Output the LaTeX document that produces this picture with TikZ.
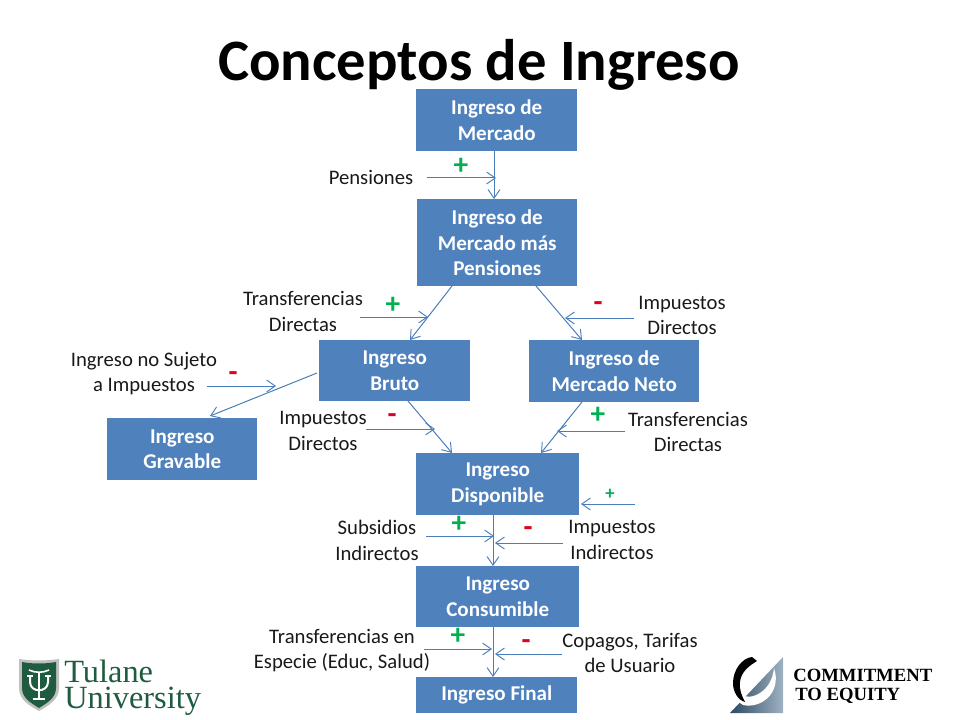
\documentclass[tikz,border=0pt]{standalone}
\usepackage{fontspec}
\setmainfont{Carlito}
\newfontfamily\logofont{Liberation Serif}
\usetikzlibrary{arrows.meta}
\definecolor{boxblue}{HTML}{4F81BD}
\definecolor{linkblue}{HTML}{4A7EBB}
\definecolor{plusgreen}{HTML}{00B050}
\definecolor{minusred}{HTML}{E00020}
\definecolor{tulane}{HTML}{1F5C3F}
\definecolor{coedark}{HTML}{2C4A63}
\definecolor{coelight}{HTML}{9FB2C2}
\tikzset{
  x=0.75pt,y=-0.75pt,
  box/.style={fill=boxblue,text=white,font=\fontsize{15.8}{19}\selectfont\bfseries,align=center,inner sep=0pt,anchor=north west},
  lab/.style={font=\fontsize{15.5}{19}\selectfont,align=center,inner sep=0pt,text=black!90,yshift=-0.6pt},
  link/.style={draw=linkblue,line width=0.75pt,-{Straight Barb[length=6.5pt,width=9pt,line width=0.7pt]}},
  plus/.style={text=plusgreen,font=\fontsize{22}{22}\selectfont\bfseries,inner sep=0pt},
  smallplus/.style={text=plusgreen,font=\fontsize{14}{14}\selectfont\bfseries,inner sep=0pt},
  minus/.style={text=minusred,font=\fontsize{22}{22}\selectfont\bfseries,inner sep=0pt},
}
\newcommand{\pbox}[6]{\node[box,minimum width=#4*0.75pt,minimum height=#5*0.75pt] (#1) at (#2,#3) {#6};}
\begin{document}
\begin{tikzpicture}
\useasboundingbox (0,0) rectangle (960,720);
\node[inner sep=0pt,font=\fontsize{44}{44}\selectfont\bfseries] (title) at (479,65) {Conceptos de Ingreso};

\pbox{mercado}{416}{89}{161}{62}{Ingreso de\\Mercado}
\pbox{maspen}{417}{199}{160}{87}{Ingreso de\\Mercado más\\Pensiones}
\pbox{bruto}{319}{340}{151}{61}{Ingreso\\Bruto}
\pbox{neto}{529}{340}{170}{62}{Ingreso de\\Mercado Neto}
\pbox{gravable}{107}{418}{150}{62}{Ingreso\\Gravable}
\pbox{dispo}{416}{453}{163}{62}{Ingreso\\Disponible}
\pbox{consu}{416}{566}{163}{61}{Ingreso\\Consumible}
\pbox{final}{416}{677}{161}{36}{Ingreso Final}

\node[lab] (lpen) at (371,177) {Pensiones};
\node[lab] (ltd1) at (303,310.5) {Transferencias\\Directas};
\node[lab] (lid1) at (682,314.5) {Impuestos\\Directos};
\node[lab] (lnos) at (144,373) {Ingreso no Sujeto\\a Impuestos};
\node[lab] (lid2) at (323,430) {Impuestos\\Directos};
\node[lab] (ltd2) at (688,431) {Transferencias\\Directas};
\node[lab] (lsub) at (377,539.5) {Subsidios\\Indirectos};
\node[lab] (limp) at (612,539) {Impuestos\\Indirectos};
\node[lab] (lesp) at (342,649.5) {Transferencias en\\Especie (Educ, Salud)};
\node[lab] (lcop) at (630,652) {Copagos, Tarifas\\de Usuario};

\node[plus] (p1) at (461,166) {+};
\node[plus] (p2) at (393,305) {+};
\node[minus] (m1) at (598,307) {-};
\node[minus] (m2) at (233,377) {-};
\node[minus] (m3) at (392,419) {-};
\node[plus] (p3) at (598,415) {+};
\node[smallplus] (p4) at (610,494) {+};
\node[plus] (p5) at (459,524) {+};
\node[minus] (m4) at (528,532) {-};
\node[plus] (p6) at (458,636) {+};
\node[minus] (m5) at (526,645) {-};

% free ends and contact points
\coordinate (a1) at (427,178); \coordinate (b1) at (496,178);
\coordinate (a2) at (360,317); \coordinate (b2) at (428,317);
\coordinate (a3) at (634,318); \coordinate (b3) at (565,318);
\coordinate (a4) at (207,386); \coordinate (b4) at (276,386);
\coordinate (a5) at (366,429); \coordinate (b5) at (435,429);
\coordinate (a6) at (625,431); \coordinate (b6) at (557,431);
\coordinate (a7) at (635,504); \coordinate (b7) at (581,504);
\coordinate (a8) at (426,536); \coordinate (b8) at (494,536);
\coordinate (a9) at (563,543); \coordinate (b9) at (495,543);
\coordinate (a10) at (424,649); \coordinate (b10) at (492,649);
\coordinate (a11) at (562,654); \coordinate (b11) at (495,654);
\coordinate (c1) at (494,151); \coordinate (d1) at (494,199);
\coordinate (c2) at (452,286); \coordinate (d2) at (410,340);
\coordinate (c3) at (536,286); \coordinate (d3) at (582,340);
\coordinate (c4) at (317,373); \coordinate (d4) at (210,416);
\coordinate (c5) at (408,401); \coordinate (d5) at (452,453);
\coordinate (c6) at (582,402); \coordinate (d6) at (541,453);
\coordinate (c7) at (493,515); \coordinate (d7) at (493,566);
\coordinate (c8) at (493,627); \coordinate (d8) at (493,677);

\foreach \i in {1,...,11} {\draw[link] (a\i) -- (b\i);}
\foreach \i in {1,...,8} {\draw[link] (c\i) -- (d\i);}

% Tulane logo
\fill[black!25] (19,659) .. controls (32,661) and (46,661) .. (59,659) -- (59,688) .. controls (59,700) and (48,706) .. (39,711) .. controls (30,706) and (19,700) .. (19,688) -- cycle;
\fill[tulane] (22,662) .. controls (33,664) and (45,664) .. (56,662) -- (56,688) .. controls (56,698) and (47,703) .. (39,708) .. controls (31,703) and (22,698) .. (22,688) -- cycle;
\draw[white,line width=1.2pt] (29,670) .. controls (35,673) and (43,673) .. (49,670);
\draw[white,line width=1.8pt] (39,672) -- (39,699);
\draw[white,line width=1.4pt] (33,699) -- (45,699);
\draw[white,line width=1.5pt] (30,676) -- (30,682) .. controls (30,693) and (48,693) .. (48,682) -- (48,676);
\draw[white,line width=1pt] (27,676) -- (33,676) (45,676) -- (51,676);
\node[inner sep=0pt,anchor=west,align=left,text=tulane,font=\logofont\fontsize{24.3}{19.5}\selectfont] (tul) at (64,688) {Tulane\\University};

% Commitment to Equity logo
\shade[left color=coedark,right color=coelight] (730,713) -- (783,657) -- (783,713) -- cycle;
\fill[white] (774,668) .. controls (782,692) and (762,709) .. (743,705) .. controls (737,702) and (736,698) .. (740,694) .. controls (750,702) and (772,692) .. (774,668) -- cycle;
\fill[black] (752,657) .. controls (742,658) and (733,670) .. (733,683) .. controls (733,692) and (738,700) .. (745,702) .. controls (742,696) and (739,690) .. (740,682) .. controls (741,673) and (747,667) .. (757,661) -- cycle;
\node[inner sep=0pt,anchor=west,font=\logofont\bfseries\fontsize{14}{14}\selectfont] (coe1) at (793,675.5) {COMMITMENT};
\node[inner sep=0pt,anchor=west,font=\logofont\bfseries\fontsize{14}{14}\selectfont] (coe2) at (795,695.5) {TO EQUITY};
\end{tikzpicture}
\end{document}
